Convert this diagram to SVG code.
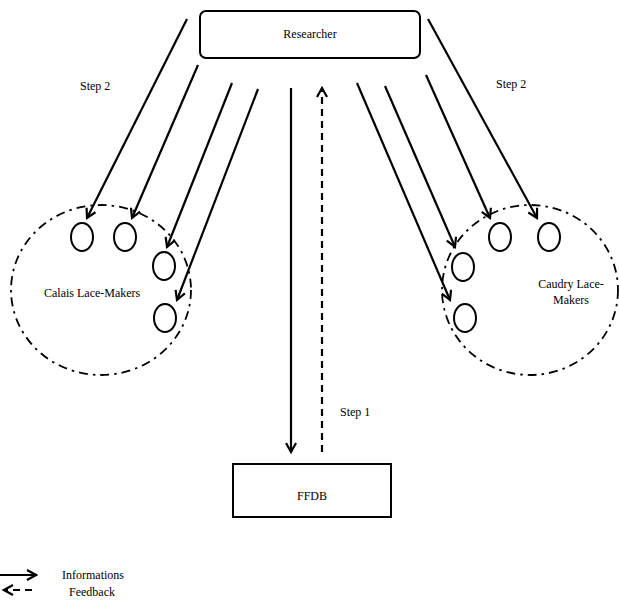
<svg xmlns="http://www.w3.org/2000/svg" width="619" height="610" viewBox="0 0 619 610" font-family="Liberation Serif, Times New Roman, serif">
<style>
text{font-family:'Liberation Serif','Times New Roman',serif;font-size:12px;fill:#000}
.box{fill:#fff;stroke:#000;stroke-width:2}
.grp{fill:none;stroke:#000;stroke-width:1.8;stroke-dasharray:9 5 2.5 5}
.mem{fill:#fff;stroke:#000;stroke-width:2}
.ar{stroke:#000;stroke-width:2.2;fill:none;marker-end:url(#ah)}
.fb{stroke:#000;stroke-width:2.2;fill:none;stroke-dasharray:7 5;marker-end:url(#ah)}
</style>
<defs>
<marker id="ah" viewBox="0 0 12 12" refX="10" refY="6" markerWidth="12" markerHeight="12" markerUnits="userSpaceOnUse" orient="auto">
<polyline points="1,1 10,6 1,11" fill="none" stroke="#000" stroke-width="2.2"/>
</marker>
</defs>
<g id="calais">
<ellipse class="grp" cx="101" cy="290" rx="90" ry="85"/>
<text x="44" y="297" font-family="Liberation Serif, serif">Calais Lace-Makers</text>
</g>
<g id="caudry">
<ellipse class="grp" cx="530" cy="290" rx="88" ry="85"/>
<text x="571" y="288" text-anchor="middle" font-family="Liberation Serif, serif">Caudry Lace-</text>
<text x="571" y="304" text-anchor="middle" font-family="Liberation Serif, serif">Makers</text>
</g>
<g id="calais-members">
<ellipse class="mem" cx="82" cy="237" rx="11" ry="14"/>
<ellipse class="mem" cx="125" cy="237" rx="11" ry="14"/>
<ellipse class="mem" cx="164" cy="266" rx="11" ry="14"/>
<ellipse class="mem" cx="165" cy="318" rx="11" ry="14"/>
</g>
<g id="caudry-members">
<ellipse class="mem" cx="500" cy="237" rx="11" ry="14"/>
<ellipse class="mem" cx="549" cy="237" rx="11" ry="14"/>
<ellipse class="mem" cx="463" cy="267" rx="11" ry="14"/>
<ellipse class="mem" cx="465" cy="318" rx="11" ry="14"/>
</g>
<g id="researcher">
<rect class="box" x="200" y="11" width="220" height="47" rx="6"/>
<text x="310" y="38" text-anchor="middle" font-family="Liberation Serif, serif">Researcher</text>
</g>
<g id="ffdb">
<rect class="box" x="233" y="464" width="158" height="53"/>
<text x="312" y="500" text-anchor="middle" font-family="Liberation Serif, serif">FFDB</text>
</g>
<g id="connectors">
<line class="ar" x1="187" y1="19" x2="87" y2="218"/>
<line class="ar" x1="198" y1="65" x2="132" y2="218"/>
<line class="ar" x1="232" y1="83" x2="167" y2="247"/>
<line class="ar" x1="258" y1="89" x2="177" y2="300"/>
<line class="ar" x1="428" y1="19" x2="537" y2="218"/>
<line class="ar" x1="426" y1="75" x2="490" y2="218"/>
<line class="ar" x1="385" y1="86" x2="455" y2="247"/>
<line class="ar" x1="357" y1="83" x2="450" y2="300"/>
<line class="ar" x1="291" y1="88" x2="291" y2="452"/>
<line class="fb" x1="322" y1="452" x2="322" y2="88"/>
</g>
<g id="labels">
<text x="80" y="90" font-family="Liberation Serif, serif">Step 2</text>
<text x="496" y="88" font-family="Liberation Serif, serif">Step 2</text>
<text x="340" y="416" font-family="Liberation Serif, serif">Step 1</text>
</g>
<g id="legend">
<line class="ar" x1="0" y1="575" x2="36" y2="575"/>
<line class="fb" x1="32" y1="590" x2="4" y2="590" stroke-dasharray="6 3"/>
<text x="62" y="579" font-family="Liberation Serif, serif">Informations</text>
<text x="69" y="596" font-family="Liberation Serif, serif">Feedback</text>
</g>
</svg>
